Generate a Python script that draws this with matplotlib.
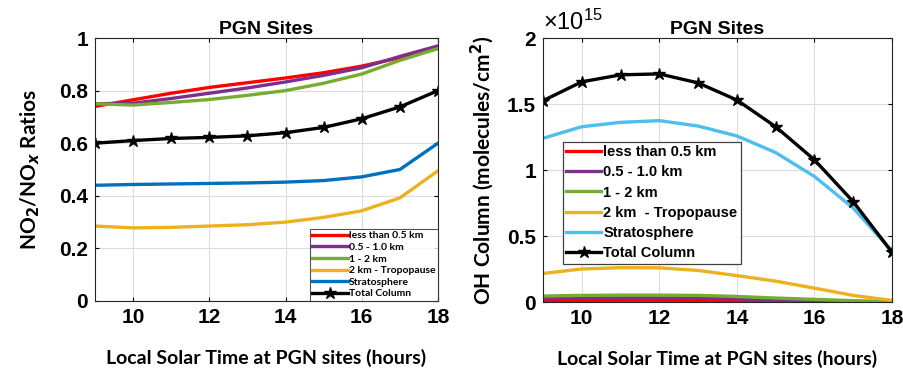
import matplotlib.pyplot as plt

hours = [9, 10, 11, 12, 13, 14, 15, 16, 17, 18]

# NO2/NOx ratios (left panel)
ratio_lt05 = [0.740, 0.765, 0.790, 0.812, 0.830, 0.848, 0.868, 0.893, 0.925, 0.960]
ratio_05_10 = [0.750, 0.752, 0.770, 0.790, 0.810, 0.833, 0.858, 0.887, 0.930, 0.970]
ratio_1_2 = [0.750, 0.745, 0.755, 0.766, 0.782, 0.800, 0.828, 0.863, 0.915, 0.960]
ratio_2_trop = [0.285, 0.278, 0.280, 0.285, 0.290, 0.300, 0.318, 0.343, 0.392, 0.495]
ratio_strat = [0.440, 0.443, 0.445, 0.447, 0.449, 0.452, 0.458, 0.472, 0.500, 0.600]
ratio_total = [0.600, 0.610, 0.618, 0.622, 0.628, 0.640, 0.660, 0.693, 0.738, 0.800]

# OH column in units of 1e15 molecules/cm2 (right panel)
oh_lt05 = [0.010, 0.012, 0.013, 0.013, 0.012, 0.008, 0.004, 0.001, 0.000, 0.000]
oh_05_10 = [0.025, 0.030, 0.032, 0.032, 0.030, 0.024, 0.015, 0.008, 0.003, 0.001]
oh_1_2 = [0.045, 0.050, 0.052, 0.052, 0.050, 0.042, 0.030, 0.020, 0.010, 0.003]
oh_2_trop = [0.216, 0.250, 0.260, 0.259, 0.239, 0.200, 0.158, 0.105, 0.050, 0.012]
oh_strat = [1.240, 1.328, 1.361, 1.374, 1.333, 1.258, 1.132, 0.951, 0.712, 0.385]
oh_total = [1.525, 1.668, 1.721, 1.728, 1.660, 1.530, 1.328, 1.077, 0.760, 0.377]

labels_left = ['less than 0.5 km', '0.5 - 1.0 km', '1 - 2 km', '2 km - Tropopause',
               'Stratosphere', 'Total Column']
labels_right = ['less than 0.5 km', '0.5 - 1.0 km', '1 - 2 km', '2 km  - Tropopause',
                'Stratosphere', 'Total Column']

plt.rcParams['font.family'] = ['Lato', 'DejaVu Sans']
plt.rcParams['font.weight'] = 'bold'
plt.rcParams['mathtext.fontset'] = 'dejavusans'

TICKFONT = ['Liberation Sans', 'DejaVu Sans']

fig = plt.figure(figsize=(9.04, 3.75), dpi=100)
ax1 = fig.add_axes([95 / 904, 1 - 301 / 375, 343 / 904, 263 / 375])
ax2 = fig.add_axes([543 / 904, 1 - 302 / 375, 349 / 904, 264 / 375])


def style_axes(ax):
    ax.set_xlim(9, 18)
    ax.set_xticks([10, 12, 14, 16, 18])
    ax.grid(True, color='#dcdcdc', linewidth=0.8)
    ax.set_axisbelow(True)
    ax.tick_params(direction='in', length=3, labelsize=15, pad=5,
                   top=True, right=True, labeltop=False, labelright=False)
    for lab in ax.get_xticklabels() + ax.get_yticklabels():
        lab.set_fontweight('bold')
        lab.set_family(TICKFONT)
    for sp in ax.spines.values():
        sp.set_color('#262626')
        sp.set_linewidth(0.8)
    ax.set_title('PGN Sites', fontsize=14, fontweight='bold', pad=3,
                 family=TICKFONT)
    ax.set_xlabel('Local Solar Time at PGN sites (hours)', fontsize=14,
                  fontweight='bold', labelpad=16)


# left panel
lw = 2.4
ax1.plot(hours, ratio_lt05, color='#ff0000', lw=lw, label=labels_left[0])
ax1.plot(hours, ratio_05_10, color='#7e2f8e', lw=lw, label=labels_left[1])
ax1.plot(hours, ratio_1_2, color='#77ac30', lw=lw, label=labels_left[2])
ax1.plot(hours, ratio_2_trop, color='#edb120', lw=lw, label=labels_left[3])
ax1.plot(hours, ratio_strat, color='#0072bd', lw=lw, label=labels_left[4])
ax1.plot(hours, ratio_total, color='black', lw=lw, marker='*', markersize=9,
         label=labels_left[5])
ax1.set_ylim(0, 1)
ax1.set_yticks([0, 0.2, 0.4, 0.6, 0.8, 1])
ax1.set_yticklabels(['0', '0.2', '0.4', '0.6', '0.8', '1'])
style_axes(ax1)
ax1.set_ylabel(r'NO$_2$/NO$_x$ Ratios', fontsize=15, fontweight='bold', labelpad=12)
leg1 = ax1.legend(loc='lower right', fontsize=7.5, frameon=True, fancybox=False,
                  handlelength=3.4, handletextpad=0.1, labelspacing=0.22,
                  borderpad=0.25, borderaxespad=0.0)
leg1.get_frame().set_edgecolor('#262626')
leg1.get_frame().set_linewidth(0.8)

# right panel
ax2.plot(hours, oh_lt05, color='#ff0000', lw=lw, label=labels_right[0])
ax2.plot(hours, oh_05_10, color='#7e2f8e', lw=lw, label=labels_right[1])
ax2.plot(hours, oh_1_2, color='#77ac30', lw=lw, label=labels_right[2])
ax2.plot(hours, oh_2_trop, color='#edb120', lw=lw, label=labels_right[3])
ax2.plot(hours, oh_strat, color='#4dbeee', lw=lw, label=labels_right[4])
ax2.plot(hours, oh_total, color='black', lw=lw, marker='*', markersize=9,
         label=labels_right[5])
ax2.set_ylim(0, 2)
ax2.set_yticks([0, 0.5, 1, 1.5, 2])
ax2.set_yticklabels(['0', '0.5', '1', '1.5', '2'])
style_axes(ax2)
ax2.set_ylabel(r'OH Column (molecules/cm$^2$)', fontsize=15, fontweight='bold',
               labelpad=8)
ax2.text(0.0, 1.01, r'$\mathregular{\times10^{15}}$', transform=ax2.transAxes,
         fontsize=17, ha='left', va='bottom', fontweight='normal',
         family=TICKFONT)
leg2 = ax2.legend(loc='upper left', bbox_to_anchor=(0.035, 0.635),
                  frameon=True, fancybox=False, handlelength=2.4,
                  handletextpad=0.15, labelspacing=0.42, borderpad=0.25,
                  prop={'family': TICKFONT, 'weight': 'bold', 'size': 10.5})
leg2.get_frame().set_edgecolor('#404040')
leg2.get_frame().set_linewidth(0.9)
leg2.get_frame().set_alpha(1)

fig.savefig('out.png', dpi=100)
